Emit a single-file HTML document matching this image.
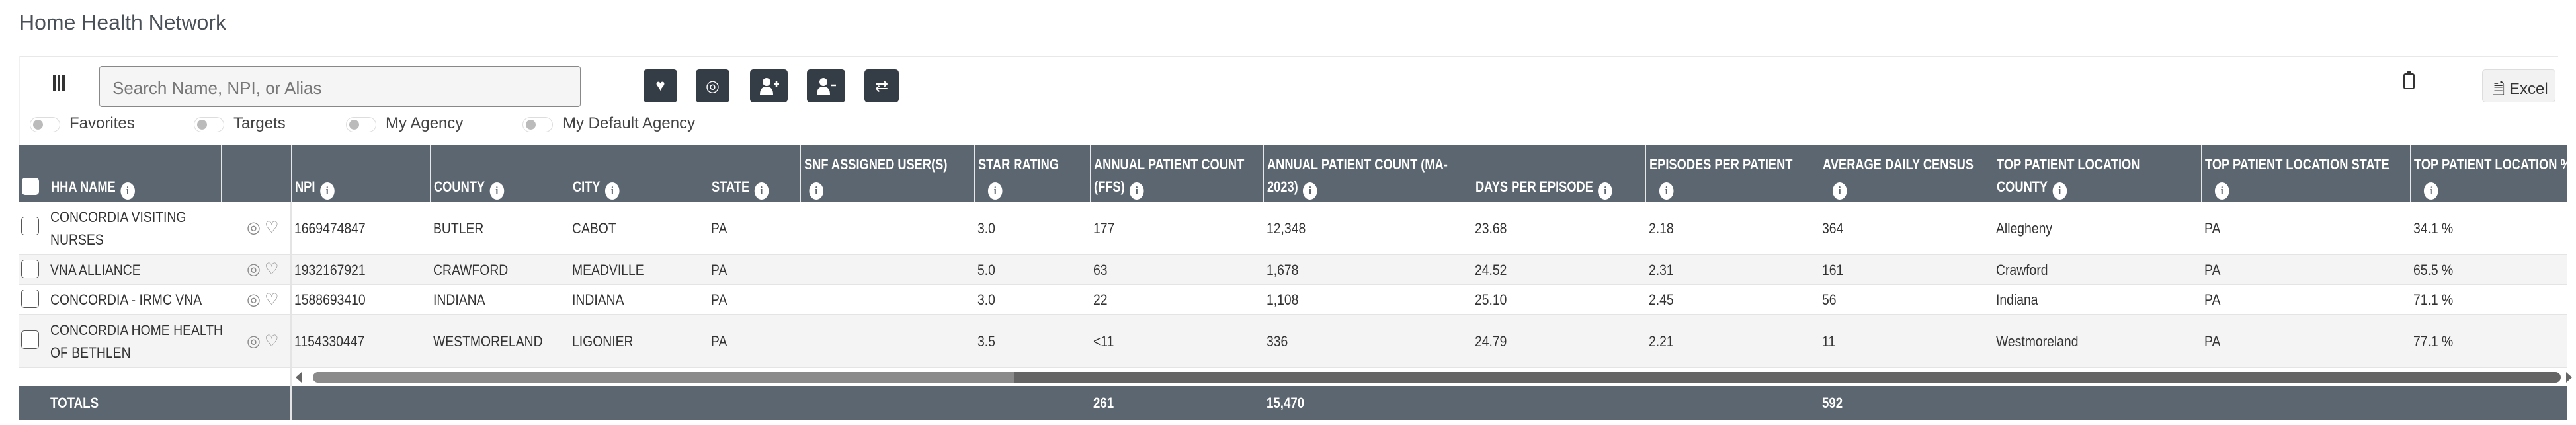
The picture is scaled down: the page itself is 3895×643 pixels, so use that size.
<!DOCTYPE html>
<html><head><meta charset="utf-8"><style>
*{margin:0;padding:0;box-sizing:border-box}
body{width:3895px;height:643px;background:#fff;position:relative;overflow:hidden;font-family:"Liberation Sans",sans-serif;color:#333}
.a{position:absolute}
.btn{position:absolute;top:105px;width:51px;height:50px;background:#343d46;border-radius:5px;color:#fff;display:flex;align-items:center;justify-content:center;font-size:24px}
.tg{position:absolute;top:177px;width:46px;height:23px;border:1px solid #ddd;border-radius:12px;background:#fff}
.tg:after{content:"";position:absolute;left:4px;top:3px;width:15px;height:15px;border-radius:50%;background:#bbb}
.tl{position:absolute;top:173px;font-size:24px;color:#444}
.hd{position:absolute;top:220px;height:85px;background:#5b6670;border-left:1px solid #e8e8e8;overflow:hidden}
.hd div{position:absolute;left:5px;bottom:3px;color:#fff;font-weight:bold;font-size:22px;line-height:34px;white-space:nowrap;transform:scaleX(.83);transform-origin:left bottom}
.i{display:inline-block;width:26px;height:26px;border-radius:50%;background:#fff;color:#5b6670;font-size:17px;line-height:26px;text-align:center;vertical-align:-4px;margin-left:9px;font-family:"Liberation Serif",serif;font-weight:bold}
.r{position:absolute;left:28px;width:3854px;border-bottom:2px solid #e4e4e4}
.c{position:absolute;display:flex;align-items:center;font-size:22px;line-height:34px;color:#333;white-space:nowrap;transform:scaleX(.88);transform-origin:left center}
.cb{position:absolute;left:32px;width:27px;height:28px;border:1.5px solid #555;border-radius:5px;background:#fff}
.ic{position:absolute;left:373px;font-size:24px;color:#888;letter-spacing:6px}
.t{position:absolute;top:584px;height:52px;color:#fff;font-weight:bold;font-size:22px;line-height:52px;transform:scaleX(.85);transform-origin:left center}
</style></head><body>
<div class="a" style="left:29px;top:16px;font-size:32px;color:#4a5058">Home Health Network</div>
<div class="a" style="left:28px;top:84px;width:3840px;height:2px;background:#e8e8e8"></div>
<div class="a" style="left:28px;top:85px;width:2px;height:140px;background:#f0f0f0"></div>
<div class="a" style="left:80px;top:113px;width:18px;height:24px;background:linear-gradient(90deg,#333 0 4px,transparent 4px 7px,#333 7px 11px,transparent 11px 14px,#333 14px 18px)"></div>
<div class="a" style="left:150px;top:100px;width:728px;height:62px;border:1.5px solid #888;border-radius:4px;background:#f5f5f5;font-size:26px;color:#777;padding:17px 0 0 19px">Search Name, NPI, or Alias</div>
<div class="btn" style="left:973px">♥</div>
<div class="btn" style="left:1052px">◎</div>
<div class="btn" style="left:1134px;width:57px"><svg width="30" height="26"><circle cx="11" cy="7" r="6" fill="#fff"/><path d="M1 26 Q1 14 11 14 Q21 14 21 26Z" fill="#fff"/><path d="M22 10h8M26 6v8" stroke="#fff" stroke-width="2.5"/></svg></div>
<div class="btn" style="left:1220px;width:58px"><svg width="30" height="26"><circle cx="11" cy="7" r="6" fill="#fff"/><path d="M1 26 Q1 14 11 14 Q21 14 21 26Z" fill="#fff"/><path d="M22 12h8" stroke="#fff" stroke-width="2.5"/></svg></div>
<div class="btn" style="left:1307px;width:52px">⇄</div>
<div class="a" style="left:3634px;top:111px;width:17px;height:24px;border:2.5px solid #333;border-radius:3px"></div>
<div class="a" style="left:3639px;top:108px;width:7px;height:6px;background:#333;border-radius:2px"></div>
<div class="a" style="left:3753px;top:105px;width:111px;height:50px;border:1px solid #ddd;border-radius:5px;background:#f2f2f2;font-size:24px;color:#333;padding:11px 0 0 14px">🗎 Excel</div>
<div class="tg" style="left:45px"></div><div class="tl" style="left:105px">Favorites</div>
<div class="tg" style="left:293px"></div><div class="tl" style="left:353px">Targets</div>
<div class="tg" style="left:523px"></div><div class="tl" style="left:583px">My Agency</div>
<div class="tg" style="left:790px"></div><div class="tl" style="left:851px">My Default Agency</div>

<div class="hd" style="left:28px;width:306px"><div style="left:48px">HHA NAME<span class="i">i</span></div></div>
<div class="a" style="left:33px;top:269px;width:26px;height:26px;background:#fff;border-radius:5px"></div>
<div class="hd" style="left:334px;width:106px"></div>
<div class="hd" style="left:440px;width:210px"><div>NPI<span class="i">i</span></div></div>
<div class="hd" style="left:650px;width:210px"><div>COUNTY<span class="i">i</span></div></div>
<div class="hd" style="left:860px;width:210px"><div>CITY<span class="i">i</span></div></div>
<div class="hd" style="left:1070px;width:140px"><div>STATE<span class="i">i</span></div></div>
<div class="hd" style="left:1210px;width:263px"><div>SNF ASSIGNED USER(S)<br><span class="i">i</span></div></div>
<div class="hd" style="left:1473px;width:175px"><div>STAR RATING<br><span class="i" style="margin-left:18px">i</span></div></div>
<div class="hd" style="left:1648px;width:262px"><div>ANNUAL PATIENT COUNT<br>(FFS)<span class="i">i</span></div></div>
<div class="hd" style="left:1910px;width:315px"><div>ANNUAL PATIENT COUNT (MA-<br>2023)<span class="i">i</span></div></div>
<div class="hd" style="left:2225px;width:263px"><div>DAYS PER EPISODE<span class="i">i</span></div></div>
<div class="hd" style="left:2488px;width:262px"><div>EPISODES PER PATIENT<br><span class="i" style="margin-left:18px">i</span></div></div>
<div class="hd" style="left:2750px;width:263px"><div>AVERAGE DAILY CENSUS<br><span class="i" style="margin-left:18px">i</span></div></div>
<div class="hd" style="left:3013px;width:315px"><div>TOP PATIENT LOCATION<br>COUNTY<span class="i">i</span></div></div>
<div class="hd" style="left:3328px;width:316px"><div>TOP PATIENT LOCATION STATE<br><span class="i" style="margin-left:18px">i</span></div></div>
<div class="hd" style="left:3644px;width:238px"><div>TOP PATIENT LOCATION %<br><span class="i" style="margin-left:18px">i</span></div></div>

<div class="r" style="top:305px;height:81px;background:#fff"></div>
<div class="r" style="top:386px;height:45px;background:#f4f4f4"></div>
<div class="r" style="top:431px;height:46px;background:#fff"></div>
<div class="r" style="top:477px;height:80px;background:#f4f4f4"></div>
<div class="a" style="left:439px;top:305px;width:2px;height:331px;background:#e4e4e4"></div>

<div class="cb" style="top:328px"></div><div class="cb" style="top:393px"></div><div class="cb" style="top:438px"></div><div class="cb" style="top:500px"></div>
<div class="ic" style="top:330px">◎♡</div><div class="ic" style="top:393px">◎♡</div><div class="ic" style="top:439px">◎♡</div><div class="ic" style="top:502px">◎♡</div>

<div class="c" style="left:76px;top:305px;height:81px">CONCORDIA VISITING<br>NURSES</div>
<div class="c" style="left:76px;top:386px;height:45px">VNA ALLIANCE</div>
<div class="c" style="left:76px;top:431px;height:46px">CONCORDIA - IRMC VNA</div>
<div class="c" style="left:76px;top:477px;height:80px">CONCORDIA HOME HEALTH<br>OF BETHLEN</div>

<div class="c" style="left:445px;top:305px;height:81px">1669474847</div>
<div class="c" style="left:655px;top:305px;height:81px">BUTLER</div>
<div class="c" style="left:865px;top:305px;height:81px">CABOT</div>
<div class="c" style="left:1075px;top:305px;height:81px">PA</div>
<div class="c" style="left:1478px;top:305px;height:81px">3.0</div>
<div class="c" style="left:1653px;top:305px;height:81px">177</div>
<div class="c" style="left:1915px;top:305px;height:81px">12,348</div>
<div class="c" style="left:2230px;top:305px;height:81px">23.68</div>
<div class="c" style="left:2493px;top:305px;height:81px">2.18</div>
<div class="c" style="left:2755px;top:305px;height:81px">364</div>
<div class="c" style="left:3018px;top:305px;height:81px">Allegheny</div>
<div class="c" style="left:3333px;top:305px;height:81px">PA</div>
<div class="c" style="left:3649px;top:305px;height:81px">34.1 %</div>

<div class="c" style="left:445px;top:386px;height:45px">1932167921</div>
<div class="c" style="left:655px;top:386px;height:45px">CRAWFORD</div>
<div class="c" style="left:865px;top:386px;height:45px">MEADVILLE</div>
<div class="c" style="left:1075px;top:386px;height:45px">PA</div>
<div class="c" style="left:1478px;top:386px;height:45px">5.0</div>
<div class="c" style="left:1653px;top:386px;height:45px">63</div>
<div class="c" style="left:1915px;top:386px;height:45px">1,678</div>
<div class="c" style="left:2230px;top:386px;height:45px">24.52</div>
<div class="c" style="left:2493px;top:386px;height:45px">2.31</div>
<div class="c" style="left:2755px;top:386px;height:45px">161</div>
<div class="c" style="left:3018px;top:386px;height:45px">Crawford</div>
<div class="c" style="left:3333px;top:386px;height:45px">PA</div>
<div class="c" style="left:3649px;top:386px;height:45px">65.5 %</div>

<div class="c" style="left:445px;top:431px;height:46px">1588693410</div>
<div class="c" style="left:655px;top:431px;height:46px">INDIANA</div>
<div class="c" style="left:865px;top:431px;height:46px">INDIANA</div>
<div class="c" style="left:1075px;top:431px;height:46px">PA</div>
<div class="c" style="left:1478px;top:431px;height:46px">3.0</div>
<div class="c" style="left:1653px;top:431px;height:46px">22</div>
<div class="c" style="left:1915px;top:431px;height:46px">1,108</div>
<div class="c" style="left:2230px;top:431px;height:46px">25.10</div>
<div class="c" style="left:2493px;top:431px;height:46px">2.45</div>
<div class="c" style="left:2755px;top:431px;height:46px">56</div>
<div class="c" style="left:3018px;top:431px;height:46px">Indiana</div>
<div class="c" style="left:3333px;top:431px;height:46px">PA</div>
<div class="c" style="left:3649px;top:431px;height:46px">71.1 %</div>

<div class="c" style="left:445px;top:477px;height:80px">1154330447</div>
<div class="c" style="left:655px;top:477px;height:80px">WESTMORELAND</div>
<div class="c" style="left:865px;top:477px;height:80px">LIGONIER</div>
<div class="c" style="left:1075px;top:477px;height:80px">PA</div>
<div class="c" style="left:1478px;top:477px;height:80px">3.5</div>
<div class="c" style="left:1653px;top:477px;height:80px">&lt;11</div>
<div class="c" style="left:1915px;top:477px;height:80px">336</div>
<div class="c" style="left:2230px;top:477px;height:80px">24.79</div>
<div class="c" style="left:2493px;top:477px;height:80px">2.21</div>
<div class="c" style="left:2755px;top:477px;height:80px">11</div>
<div class="c" style="left:3018px;top:477px;height:80px">Westmoreland</div>
<div class="c" style="left:3333px;top:477px;height:80px">PA</div>
<div class="c" style="left:3649px;top:477px;height:80px">77.1 %</div>

<div class="a" style="left:447px;top:563px;width:0;height:0;border-top:8px solid transparent;border-bottom:8px solid transparent;border-right:9px solid #666"></div>
<div class="a" style="left:473px;top:563px;width:3399px;height:16px;background:#646464;border-radius:8px"></div>
<div class="a" style="left:473px;top:563px;width:1060px;height:16px;background:#8a8a8a;border-radius:8px 0 0 8px"></div>
<div class="a" style="left:3880px;top:563px;width:0;height:0;border-top:8px solid transparent;border-bottom:8px solid transparent;border-left:9px solid #666"></div>

<div class="a" style="left:28px;top:584px;width:3854px;height:52px;background:#5b6670"></div>
<div class="a" style="left:439px;top:584px;width:2px;height:52px;background:#e4e4e4"></div>
<div class="t" style="left:76px">TOTALS</div>
<div class="t" style="left:1653px">261</div>
<div class="t" style="left:1915px">15,470</div>
<div class="t" style="left:2755px">592</div>
</body></html>
